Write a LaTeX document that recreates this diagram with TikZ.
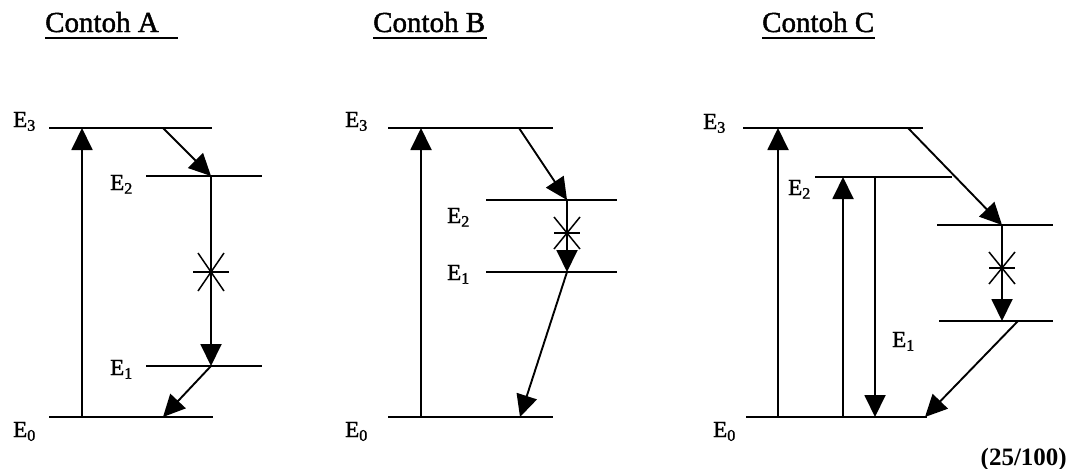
\documentclass[tikz,border=0pt]{standalone}
\usepackage{fontspec}
\setmainfont{Liberation Serif}[UprightFeatures={FakeBold=1.5}]
\usetikzlibrary{arrows.meta}
\tikzset{
  lvl/.style={line width=2.2pt},
  trans/.style={line width=1.9pt,-{Triangle[length=22pt,width=21pt]}},
  starln/.style={line width=1.5pt},
  elab/.style={anchor=base west,inner sep=0pt,font=\fontsize{23}{25}\selectfont},
  ttl/.style={anchor=base west,inner sep=0pt,font=\fontsize{29}{31}\selectfont},
  uline/.style={line width=1.6pt}
}
\newcommand{\mystar}[2]{%
  \draw[starln] (#1-18,#2) -- (#1+18,#2);
  \draw[starln] (#1-13,#2-19) -- (#1+13,#2+19);
  \draw[starln] (#1-13,#2+19) -- (#1+13,#2-19);}
\newcommand{\mystarS}[2]{%
  \draw[starln] (#1-13,#2) -- (#1+13,#2);
  \draw[starln] (#1-13,#2-16) -- (#1+13,#2+16);
  \draw[starln] (#1-13,#2+16) -- (#1+13,#2-16);}
\begin{document}
\begin{tikzpicture}[x=1pt,y=-1pt]
\useasboundingbox (0,0) rectangle (1072,469);
% ---------- titles ----------
\node[ttl] (tA) at (45,32) {Contoh A};
\node[ttl] (tB) at (373,32) {Contoh B};
\node[ttl] (tC) at (762,32) {Contoh C};
\coordinate (uA1) at (45,38); \coordinate (uA2) at (178,38);
\coordinate (uB1) at (373,38); \coordinate (uB2) at (487,38);
\coordinate (uC1) at (762,38); \coordinate (uC2) at (875,38);
\draw[uline] (uA1) -- (uA2);
\draw[uline] (uB1) -- (uB2);
\draw[uline] (uC1) -- (uC2);
% ---------- Contoh A ----------
\coordinate (A3w) at (49,128);  \coordinate (A3e) at (212,128);
\coordinate (A2w) at (146,176); \coordinate (A2e) at (262,176);
\coordinate (A1w) at (146,366); \coordinate (A1e) at (262,366);
\coordinate (A0w) at (49,417);  \coordinate (A0e) at (213,417);
\draw[lvl] (A3w) -- (A3e);
\draw[lvl] (A2w) -- (A2e);
\draw[lvl] (A1w) -- (A1e);
\draw[lvl] (A0w) -- (A0e);
\node[elab] (lA3) at (13,127) {E\textsubscript{3}};
\node[elab] (lA2) at (110,190) {E\textsubscript{2}};
\node[elab] (lA1) at (110,375) {E\textsubscript{1}};
\node[elab] (lA0) at (13,437) {E\textsubscript{0}};
\coordinate (Au0) at (82,417); \coordinate (Au3) at (82,128);
\coordinate (Ad3) at (163,128); \coordinate (Ad2) at (211,176);
\coordinate (Ad1) at (211,366); \coordinate (Ad0) at (163,417);
\draw[trans] (Au0) -- (Au3);
\draw[trans] (Ad3) -- (Ad2);
\draw[trans] (Ad2) -- (Ad1);
\draw[trans] (Ad1) -- (Ad0);
\mystar{211}{272}
% ---------- Contoh B ----------
\coordinate (B3w) at (388,128); \coordinate (B3e) at (553,128);
\coordinate (B2w) at (486,200); \coordinate (B2e) at (617,200);
\coordinate (B1w) at (486,272); \coordinate (B1e) at (617,272);
\coordinate (B0w) at (388,417); \coordinate (B0e) at (553,417);
\draw[lvl] (B3w) -- (B3e);
\draw[lvl] (B2w) -- (B2e);
\draw[lvl] (B1w) -- (B1e);
\draw[lvl] (B0w) -- (B0e);
\node[elab] (lB3) at (345,127) {E\textsubscript{3}};
\node[elab] (lB2) at (447,223) {E\textsubscript{2}};
\node[elab] (lB1) at (447,280) {E\textsubscript{1}};
\node[elab] (lB0) at (345,437) {E\textsubscript{0}};
\coordinate (Bu0) at (421,417); \coordinate (Bu3) at (421,128);
\coordinate (Bd3) at (519,128); \coordinate (Bd2) at (567,200);
\coordinate (Bd1) at (567,272); \coordinate (Bd0) at (520,417);
\draw[trans] (Bu0) -- (Bu3);
\draw[trans] (Bd3) -- (Bd2);
\draw[trans] (Bd2) -- (Bd1);
\draw[trans] (Bd1) -- (Bd0);
\mystarS{567}{233}
% ---------- Contoh C ----------
\coordinate (C3w) at (743,128); \coordinate (C3e) at (923,128);
\coordinate (C2w) at (815,177); \coordinate (C2e) at (952,177);
\coordinate (CXw) at (937,225); \coordinate (CXe) at (1053,225);
\coordinate (C1w) at (939,321); \coordinate (C1e) at (1053,321);
\coordinate (C0w) at (746,417); \coordinate (C0e) at (927,417);
\draw[lvl] (C3w) -- (C3e);
\draw[lvl] (C2w) -- (C2e);
\draw[lvl] (CXw) -- (CXe);
\draw[lvl] (C1w) -- (C1e);
\draw[lvl] (C0w) -- (C0e);
\node[elab] (lC3) at (703,129) {E\textsubscript{3}};
\node[elab] (lC2) at (788,195) {E\textsubscript{2}};
\node[elab] (lC1) at (892,347) {E\textsubscript{1}};
\node[elab] (lC0) at (713,437) {E\textsubscript{0}};
\coordinate (Cu0) at (778,417); \coordinate (Cu3) at (778,128);
\coordinate (Cv0) at (843,417); \coordinate (Cv2) at (843,177);
\coordinate (Cw2) at (875,177); \coordinate (Cw0) at (875,417);
\coordinate (Cd3) at (908,128); \coordinate (CdX) at (1002,225);
\coordinate (Cd1) at (1002,321);
\coordinate (Ce1) at (1018,321); \coordinate (Ce0) at (925,417);
\draw[trans] (Cu0) -- (Cu3);
\draw[trans] (Cv0) -- (Cv2);
\draw[trans] (Cw2) -- (Cw0);
\draw[trans] (Cd3) -- (CdX);
\draw[trans] (CdX) -- (Cd1);
\draw[trans] (Ce1) -- (Ce0);
\mystarS{1002}{268}
% ---------- footer ----------
\node[anchor=base east,inner sep=0pt,font=\bfseries\fontsize{25}{27}\selectfont] (note) at (1067,465) {(25/100)};
\end{tikzpicture}
\end{document}
